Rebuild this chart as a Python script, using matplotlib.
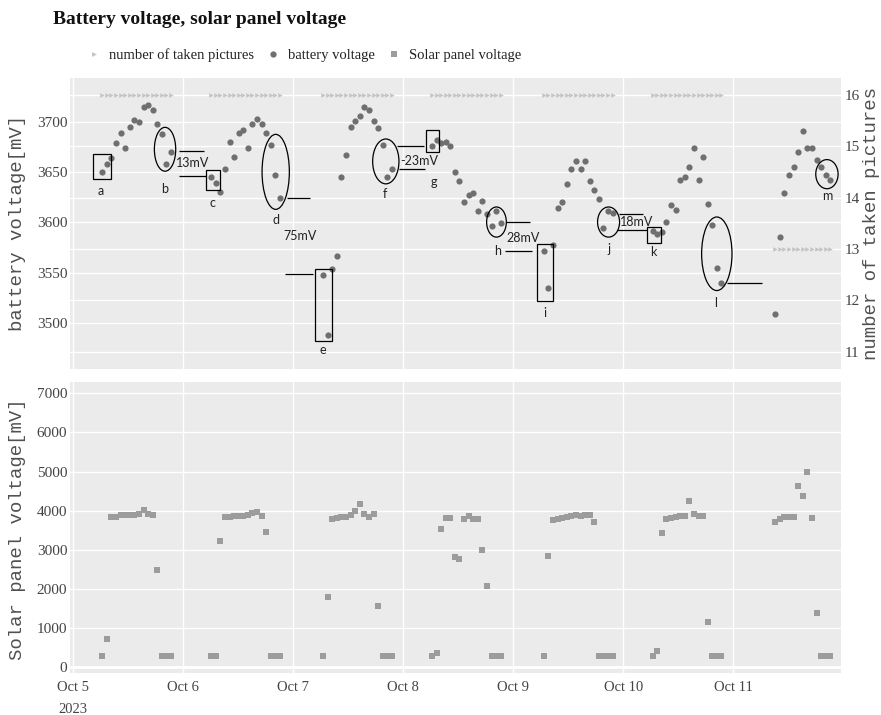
import matplotlib
matplotlib.use("Agg")
import matplotlib.pyplot as plt
import matplotlib.dates as mdates
import pandas as pd
from matplotlib.lines import Line2D
from matplotlib.patches import Ellipse, Rectangle

# ---------------------------------------------------------------- data
sample_times = [
    # Oct 5
    "2023-10-05 06:20", "2023-10-05 07:20", "2023-10-05 08:20", "2023-10-05 09:20",
    "2023-10-05 10:20", "2023-10-05 11:20", "2023-10-05 12:20", "2023-10-05 13:20",
    "2023-10-05 14:20", "2023-10-05 15:20", "2023-10-05 16:20", "2023-10-05 17:20",
    "2023-10-05 18:20", "2023-10-05 19:20", "2023-10-05 20:20", "2023-10-05 21:20",
    # Oct 6
    "2023-10-06 06:05", "2023-10-06 07:05", "2023-10-06 08:05", "2023-10-06 09:05",
    "2023-10-06 10:05", "2023-10-06 11:05", "2023-10-06 12:05", "2023-10-06 13:05",
    "2023-10-06 14:05", "2023-10-06 15:05", "2023-10-06 16:05", "2023-10-06 17:05",
    "2023-10-06 18:05", "2023-10-06 19:05", "2023-10-06 20:05", "2023-10-06 21:05",
    # Oct 7
    "2023-10-07 06:30", "2023-10-07 07:30", "2023-10-07 08:30", "2023-10-07 09:30",
    "2023-10-07 10:30", "2023-10-07 11:30", "2023-10-07 12:30", "2023-10-07 13:30",
    "2023-10-07 14:30", "2023-10-07 15:30", "2023-10-07 16:30", "2023-10-07 17:30",
    "2023-10-07 18:30", "2023-10-07 19:30", "2023-10-07 20:30", "2023-10-07 21:30",
    # Oct 8
    "2023-10-08 06:15", "2023-10-08 07:15", "2023-10-08 08:15", "2023-10-08 09:15",
    "2023-10-08 10:15", "2023-10-08 11:15", "2023-10-08 12:15", "2023-10-08 13:15",
    "2023-10-08 14:15", "2023-10-08 15:15", "2023-10-08 16:15", "2023-10-08 17:15",
    "2023-10-08 18:15", "2023-10-08 19:15", "2023-10-08 20:15", "2023-10-08 21:15",
    # Oct 9
    "2023-10-09 06:40", "2023-10-09 07:40", "2023-10-09 08:40", "2023-10-09 09:40",
    "2023-10-09 10:40", "2023-10-09 11:40", "2023-10-09 12:40", "2023-10-09 13:40",
    "2023-10-09 14:40", "2023-10-09 15:40", "2023-10-09 16:40", "2023-10-09 17:40",
    "2023-10-09 18:40", "2023-10-09 19:40", "2023-10-09 20:40", "2023-10-09 21:40",
    # Oct 10
    "2023-10-10 06:25", "2023-10-10 07:25", "2023-10-10 08:25", "2023-10-10 09:25",
    "2023-10-10 10:25", "2023-10-10 11:25", "2023-10-10 12:25", "2023-10-10 13:25",
    "2023-10-10 14:25", "2023-10-10 15:25", "2023-10-10 16:25", "2023-10-10 17:25",
    "2023-10-10 18:25", "2023-10-10 19:25", "2023-10-10 20:25", "2023-10-10 21:25",
    # Oct 11
    "2023-10-11 09:10", "2023-10-11 10:10", "2023-10-11 11:10", "2023-10-11 12:10",
    "2023-10-11 13:10", "2023-10-11 14:10", "2023-10-11 15:10", "2023-10-11 16:10",
    "2023-10-11 17:10", "2023-10-11 18:10", "2023-10-11 19:10", "2023-10-11 20:10",
    "2023-10-11 21:10",
]

battery_mv = [
    3650, 3658, 3664, 3679, 3689, 3674, 3695, 3702, 3700, 3715, 3717, 3712, 3698, 3688, 3658, 3670,
    3645, 3639, 3630, 3653, 3680, 3665, 3689, 3692, 3674, 3698, 3703, 3698, 3689, 3677, 3647, 3624,
    3548, 3488, 3554, 3566, 3645, 3667, 3695, 3701, 3706, 3715, 3712, 3701, 3694, 3677, 3645, 3653,
    3676, 3682, 3679, 3680, 3676, 3650, 3641, 3620, 3627, 3629, 3611, 3621, 3608, 3596, 3611, 3599,
    3571, 3535, 3577, 3614, 3620, 3638, 3653, 3661, 3653, 3661, 3641, 3632, 3623, 3594, 3611, 3609,
    3591, 3588, 3590, 3600, 3617, 3612, 3642, 3645, 3655, 3674, 3642, 3665, 3618, 3597, 3555, 3540,
    3509, 3585, 3629, 3647, 3655, 3670, 3691, 3674, 3674, 3662, 3655, 3647, 3642,
]

taken_pictures = (
    [16] * 16 + [16] * 16 + [16] * 16 + [16] * 16 + [16] * 16 + [16] * 16 + [13] * 13
)

solar_mv = [
    300, 730, 3850, 3850, 3880, 3900, 3880, 3880, 3910, 4010, 3925, 3885, 2495, 300, 300, 300,
    300, 300, 3220, 3850, 3850, 3865, 3865, 3865, 3885, 3935, 3960, 3860, 3465, 300, 300, 300,
    300, 1790, 3800, 3815, 3830, 3850, 3890, 3990, 4165, 3925, 3840, 3910, 1575, 300, 300, 300,
    300, 360, 3525, 3825, 3825, 2810, 2775, 3800, 3865, 3780, 3780, 2990, 2085, 300, 300, 300,
    300, 2845, 3765, 3800, 3825, 3850, 3875, 3900, 3855, 3890, 3890, 3710, 300, 300, 300, 300,
    300, 425, 3430, 3800, 3825, 3850, 3855, 3855, 4255, 3915, 3865, 3865, 1150, 300, 300, 300,
    3720, 3800, 3830, 3830, 3830, 4630, 4370, 4990, 3825, 1385, 300, 300, 300,
]

day_ticks = ["2023-10-05", "2023-10-06", "2023-10-07", "2023-10-08",
             "2023-10-09", "2023-10-10", "2023-10-11"]
day_tick_labels = ["Oct 5\n2023", "Oct 6", "Oct 7", "Oct 8", "Oct 9", "Oct 10", "Oct 11"]

battery_ticks = [3500, 3550, 3600, 3650, 3700]
picture_ticks = [11, 12, 13, 14, 15, 16]
solar_ticks = [0, 1000, 2000, 3000, 4000, 5000, 6000, 7000]

# ---------------------------------------------------------------- style
BG = "#ebebeb"
TICK_COLOR = "#444444"
SERIF = "Liberation Serif"
MONO = "Liberation Mono"
NOTE_FONT = ["Lato", "DejaVu Sans"]
C_BATT = "#6f6f6f"
C_SOLAR = "#9c9c9c"
C_PICS = "#c4c4c4"

t = pd.to_datetime(sample_times)
origin = mdates.date2num(pd.Timestamp("2023-10-05"))

W, H = 881, 715
fig = plt.figure(figsize=(W / 100, H / 100), dpi=100)

def fig_rect(x0, y0, x1, y1):
    return [x0 / W, 1 - y1 / H, (x1 - x0) / W, (y1 - y0) / H]

ax_b = fig.add_axes(fig_rect(70, 78, 841, 369))
ax_s = fig.add_axes(fig_rect(70, 381.7, 841, 673), sharex=ax_b)
ax_p = ax_b.twinx()

# pictures axis sits behind the battery axis and carries the background
ax_p.set_zorder(1)
ax_b.set_zorder(2)
ax_b.patch.set_visible(False)
ax_p.patch.set_visible(True)
ax_p.patch.set_facecolor(BG)
ax_s.set_facecolor(BG)

for ax in (ax_b, ax_s, ax_p):
    for sp in ax.spines.values():
        sp.set_visible(False)
    ax.tick_params(length=0, labelsize=10.5, labelcolor=TICK_COLOR)
ax_b.tick_params(axis="y", labelsize=11)
ax_s.tick_params(axis="y", labelsize=11)
ax_p.tick_params(axis="y", labelsize=11)

ax_b.grid(True, color="white", linewidth=1.0)
ax_p.grid(True, axis="y", color="white", linewidth=1.0)
ax_s.grid(True, color="white", linewidth=1.0)
ax_b.set_axisbelow(True)
ax_s.set_axisbelow(True)

# marks
ax_p.scatter(t, taken_pictures, marker=">", s=11, color=C_PICS, linewidths=0, zorder=3)
ax_b.scatter(t, battery_mv, marker="o", s=20, color=C_BATT, linewidths=0, zorder=3)
ax_s.scatter(t, solar_mv, marker="s", s=22, color=C_SOLAR, linewidths=0, zorder=3)
ax_s.axhline(0, color="white", linewidth=2.0, zorder=1)

# scales
ax_b.set_xlim(origin - 0.03, origin + 6.979)
ax_b.set_ylim(3453.9, 3743.8)
ax_p.set_ylim(10.66, 16.33)
ax_s.set_ylim(-146, 7296)

ax_b.set_yticks(battery_ticks)
ax_p.set_yticks(picture_ticks)
ax_s.set_yticks(solar_ticks)
ax_s.set_xticks(pd.to_datetime(day_ticks))
ax_s.set_xticklabels(day_tick_labels, linespacing=1.9, va="top")
ax_b.tick_params(axis="x", labelbottom=False)
ax_p.tick_params(axis="y", pad=3)
ax_b.tick_params(axis="y", pad=2)
ax_s.tick_params(axis="y", pad=2)
ax_s.tick_params(axis="x", pad=6)

for ax in (ax_b, ax_s, ax_p):
    for lab in ax.get_xticklabels() + ax.get_yticklabels():
        lab.set_family(SERIF)
        lab.set_color(TICK_COLOR)

# axis titles
label_kw = dict(rotation=90, ha="center", va="center", family=MONO, fontsize=13.7,
                color="#505050")
fig.text(18 / W, 1 - 223 / H, "battery voltage[mV]", **label_kw)
fig.text(18 / W, 1 - 529 / H, "Solar panel voltage[mV]", **label_kw)
fig.text(872 / W, 1 - 224 / H, "number of taken pictures", **label_kw)

# title and legend
fig.text(53 / W, 1 - 20 / H, "Battery voltage, solar panel voltage", ha="left", va="center",
         family=SERIF, fontsize=14, fontweight="bold", color="#111111")

handles = [
    Line2D([], [], linestyle="none", marker=">", markersize=3.5, color=C_PICS, markeredgewidth=0),
    Line2D([], [], linestyle="none", marker="o", markersize=4.5, color=C_BATT, markeredgewidth=0),
    Line2D([], [], linestyle="none", marker="s", markersize=4.5, color=C_SOLAR, markeredgewidth=0),
]
fig.legend(handles, ["number of taken pictures", "battery voltage", "Solar panel voltage"],
           loc="center left", bbox_to_anchor=(87 / W, 1 - 55 / H), ncol=3, frameon=False,
           handlelength=1.0, handletextpad=0.53, columnspacing=0.8, borderpad=0,
           borderaxespad=0, prop={"family": SERIF, "size": 10.5}, labelcolor="#222222")

# ---------------------------------------------------------------- notes on the battery panel
def dx(day_offset):
    return origin + day_offset

note_kw = dict(color="black", linewidth=0.9, zorder=5)

boxes = [  # (x0, x1, y0, y1) in day offset / mV
    (0.182, 0.340, 3643.3, 3667.7),
    (1.206, 1.336, 3632.7, 3652.0),
    (2.200, 2.355, 3481.7, 3554.0),
    (3.209, 3.327, 3669.7, 3691.7),
    (4.215, 4.361, 3522.0, 3578.0),
    (5.213, 5.340, 3579.7, 3595.3),
]
for x0, x1, y0, y1 in boxes:
    ax_b.add_patch(Rectangle((dx(x0), y0), x1 - x0, y1 - y0, fill=False, **note_kw))

rings = [  # (cx, cy, width, height)
    (0.834, 3672.8, 0.194, 43.7),
    (1.840, 3650.3, 0.248, 74.7),
    (2.841, 3660.7, 0.239, 44.7),
    (3.847, 3600.3, 0.179, 30.0),
    (4.866, 3600.3, 0.200, 30.0),
    (5.850, 3568.7, 0.276, 73.3),
    (6.851, 3648.0, 0.203, 29.0),
]
for cx, cy, w, h in rings:
    ax_b.add_patch(Ellipse((dx(cx), cy), w, h, fill=False, **note_kw))

leaders = [  # (x0, x1, y)
    (0.961, 1.188, 3671), (0.961, 1.206, 3646),
    (1.940, 2.155, 3624), (1.927, 2.176, 3549),
    (2.943, 3.185, 3676), (2.961, 3.195, 3653),
    (3.936, 4.155, 3600), (3.927, 4.170, 3571),
    (4.964, 5.176, 3608), (4.940, 5.218, 3592),
    (5.940, 6.258, 3540),
]
for x0, x1, y in leaders:
    ax_b.plot([dx(x0), dx(x1)], [y, y], solid_capstyle="butt", **note_kw)

letters = [
    ("a", 0.245, 3631), ("b", 0.831, 3633), ("c", 1.264, 3619), ("d", 1.843, 3602),
    ("e", 2.267, 3473), ("f", 2.834, 3628), ("g", 3.276, 3640), ("h", 3.855, 3571),
    ("i", 4.291, 3510), ("j", 4.867, 3573), ("k", 5.273, 3570), ("l", 5.843, 3520),
    ("m", 6.856, 3626),
]
for s, x, y in letters:
    ax_b.text(dx(x), y, s, ha="center", va="center", fontsize=9, family=NOTE_FONT,
              color="#222222", zorder=6)

deltas = [("13mV", 1.085, 3659), ("75mV", 2.061, 3586), ("-23mV", 3.141, 3661),
          ("28mV", 4.085, 3584), ("18mV", 5.123, 3600)]
for s, x, y in deltas:
    ax_b.text(dx(x), y, s, ha="center", va="center", fontsize=9, family=NOTE_FONT,
              color="#222222", zorder=6)

fig.savefig("out.png", dpi=100, facecolor="white")
